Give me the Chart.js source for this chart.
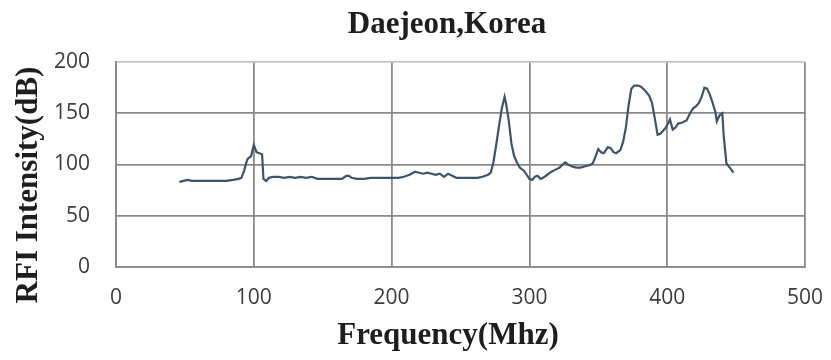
<!DOCTYPE html>
<html>
<head>
<meta charset="utf-8">
<script src="https://cdn.jsdelivr.net/npm/chart.js@4/dist/chart.umd.min.js"></script>
<style>
  html, body { margin: 0; padding: 0; background: #ffffff; }
  #wrap { width: 831px; height: 360px; }
</style>
</head>
<body>
<div id="wrap"><canvas id="c" width="831" height="360"></canvas></div>
<script>
// RFI spectrum measured in Daejeon, Korea
const chartTitle = 'Daejeon,Korea';
const xTitle = 'Frequency(Mhz)';
const yTitle = 'RFI Intensity(dB)';

const xTicks = [0, 100, 200, 300, 400, 500];
const yTicks = [0, 50, 100, 150, 200];

// Frequency (MHz)
const freqs = [
  46, 49, 52, 55, 60, 65, 70, 75, 80, 85, 89, 91, 93, 95, 96, 98, 100, 102, 104, 106,
  107, 109, 111, 114, 118, 122, 126, 130, 134, 138, 142, 146, 150, 155, 160, 164, 167, 169, 171, 175,
  180, 185, 190, 195, 200, 205, 209, 213, 217, 220, 223, 226, 229, 232, 235, 238, 241, 244, 247, 250,
  254, 258, 262, 266, 270, 272, 274, 276, 278, 280, 282, 283, 285, 287, 289, 291, 293, 296, 298, 300,
  302, 304, 306, 308, 310, 313, 316, 319, 322, 324, 326, 328, 331, 334, 337, 340, 343, 346, 348, 350,
  352, 354, 357, 359, 361, 363, 366, 368, 370, 372, 374, 376, 379, 381, 384, 387, 389, 391, 393, 395,
  397, 399, 401, 402, 404, 406, 408, 411, 414, 417, 419, 421, 423, 425, 427, 429, 431, 433, 435, 436,
  438, 440, 441, 443, 446, 448
];

// RFI intensity (dB)
const rfi = [
  83, 84, 85, 84, 84, 84, 84, 84, 84, 85, 86, 87, 94, 104, 106, 108, 119, 112, 111, 110,
  86, 84, 87, 88, 88, 87, 88, 87, 88, 87, 88, 86, 86, 86, 86, 86, 89, 89, 87, 86,
  86, 87, 87, 87, 87, 87, 88, 90, 93, 92, 91, 92, 91, 90, 91, 88, 91, 89, 87, 87,
  87, 87, 87, 88, 90, 92, 103, 120, 138, 155, 166, 160, 143, 120, 108, 102, 97, 94, 90, 86,
  85, 88, 89, 86, 87, 90, 93, 95, 97, 100, 102, 100, 98, 97, 97, 98, 99, 101, 108, 115,
  112, 111, 117, 116, 112, 111, 114, 122, 136, 158, 174, 177, 177, 176, 172, 167, 160, 145, 129, 130,
  133, 136, 141, 144, 134, 136, 140, 141, 143, 151, 155, 157, 160, 166, 175, 174, 168, 160, 151, 142,
  148, 150, 128, 101, 96, 92
];

const points = freqs.map((f, i) => ({ x: f, y: rfi[i] }));

const gridGray = '#8a8a8a';

// Titles drawn in serif bold around the plot area
const titlesPlugin = {
  id: 'titles',
  afterDraw(chart) {
    const { ctx } = chart;
    ctx.save();
    ctx.fillStyle = '#1e1e1e';
    ctx.textAlign = 'center';
    ctx.textBaseline = 'middle';
    ctx.font = 'bold 31px "Liberation Serif", "Times New Roman", serif';
    ctx.fillText(chartTitle, 447, 25);
    ctx.font = 'bold 31px "Liberation Serif", "Times New Roman", serif';
    ctx.fillText(xTitle, 448, 336);
    ctx.translate(29, 185);
    ctx.rotate(-Math.PI / 2);
    ctx.font = 'bold 31px "Liberation Serif", "Times New Roman", serif';
    ctx.fillText(yTitle, 0, 0);
    ctx.restore();
  }
};

new Chart(document.getElementById('c'), {
  type: 'line',
  data: {
    datasets: [{
      data: points,
      borderColor: '#3f5469',
      borderWidth: 2.2,
      pointRadius: 0,
      tension: 0,
      fill: false
    }]
  },
  options: {
    responsive: false,
    animation: false,
    layout: { padding: { left: 0, right: 26, top: 62, bottom: 0 } },
    plugins: {
      legend: { display: false },
      tooltip: { enabled: false },
      title: { display: false }
    },
    scales: {
      x: {
        type: 'linear',
        min: 0,
        max: 500,
        afterFit(scale) {
          scale.height = 93;
          scale.paddingLeft = 0;
          scale.paddingRight = 0;
        },
        afterBuildTicks(scale) { scale.ticks = xTicks.map(v => ({ value: v })); },
        ticks: {
          color: '#3c3c3c',
          font: { family: '"Open Sans", sans-serif', size: 21 },
          padding: 18,
          maxRotation: 0
        },
        grid: { color: gridGray, lineWidth: 1.8, drawTicks: false },
        border: { display: true, color: gridGray, width: 1.8 }
      },
      y: {
        min: 0,
        max: 200,
        afterFit(scale) {
          scale.width = 116;
          scale.paddingTop = 0;
          scale.paddingBottom = 0;
        },
        afterBuildTicks(scale) { scale.ticks = yTicks.map(v => ({ value: v })); },
        ticks: {
          color: '#3c3c3c',
          font: { family: '"Open Sans", sans-serif', size: 21 },
          padding: 26
        },
        grid: {
          color: (c) => (c.tick && c.tick.value === 200 ? '#c4c4c4' : gridGray),
          lineWidth: 1.8,
          drawTicks: false
        },
        border: { display: true, color: gridGray, width: 1.8 }
      }
    }
  },
  plugins: [titlesPlugin]
});
</script>
</body>
</html>
